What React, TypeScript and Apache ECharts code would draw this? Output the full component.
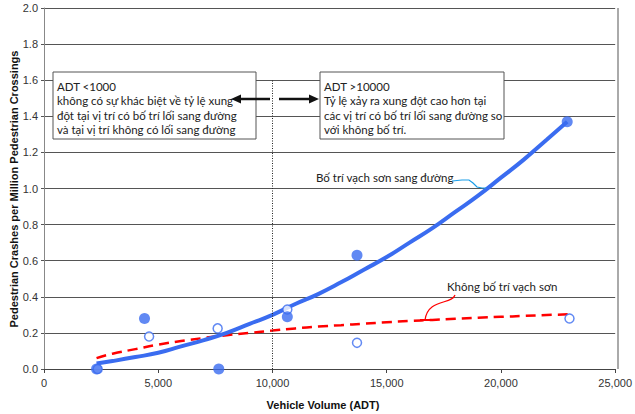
import React, { useEffect, useRef } from "react";
import * as echarts from "echarts";

const xTicks = [0, 5000, 10000, 15000, 20000, 25000];
const markedPoints: [number, number][] = [
  [2300, 0.0], [4400, 0.28], [7650, 0.0], [10650, 0.29], [13700, 0.63], [22900, 1.37],
];
const unmarkedPoints: [number, number][] = [
  [2350, 0.0], [4600, 0.18], [7600, 0.225], [10650, 0.33], [13700, 0.145], [23000, 0.28],
];
const markedTrend: [number, number][] = [
  [2300, 0.03], [3000, 0.044], [4000, 0.066], [5000, 0.09], [6000, 0.125], [7000, 0.16],
  [8000, 0.2], [9000, 0.25], [10000, 0.3], [11000, 0.36], [12000, 0.415], [13000, 0.48],
  [14000, 0.55], [15000, 0.62], [16000, 0.7], [17000, 0.78], [18000, 0.87], [19000, 0.96],
  [20000, 1.06], [21000, 1.16], [22000, 1.27], [22900, 1.37],
];
const unmarkedTrend: [number, number][] = [
  [2300, 0.06], [3000, 0.085], [4000, 0.11], [5000, 0.135], [6000, 0.155], [7000, 0.172],
  [8000, 0.187], [9000, 0.2], [10000, 0.213], [11000, 0.225], [12000, 0.235], [13000, 0.243],
  [14000, 0.251], [15000, 0.259], [16000, 0.266], [17000, 0.272], [18000, 0.278],
  [19000, 0.284], [20000, 0.289], [21000, 0.294], [22000, 0.299], [23000, 0.303],
];
const leftBoxLines = [
  "ADT <1000",
  "không có sự khác biệt về tỷ lệ xung",
  "đột tại vị trí có bố trí lối sang đường",
  "và tại vị trí không có lối sang đường",
];
const rightBoxLines = [
  "ADT >10000",
  "Tỷ lệ xảy ra xung đột cao hơn tại",
  "các vị trí có bố trí lối sang đường so",
  "với không bố trí.",
];
const markedLabel = "Bố trí vạch sơn sang đường";
const unmarkedLabel = "Không bố trí vạch sơn";
const xTitle = "Vehicle Volume (ADT)";
const yTitle = "Pedestrian Crashes per Million Pedestrian Crossings";

const BLUE = "#3a6cf0";
const NOTE_FONT = "Lato, 'Open Sans', sans-serif";

export default function App() {
  const ref = useRef<HTMLDivElement>(null);
  useEffect(() => {
    if (!ref.current) return;
    const chart = echarts.init(ref.current, null, { renderer: "svg" });
    const box = (x: number, y: number, w: number, h: number, lines: string[]) => ({
      type: "group",
      children: [
        {
          type: "rect",
          shape: { x, y, width: w, height: h },
          style: { fill: "#fff", stroke: "#555", lineWidth: 1 },
          z: 10,
        },
        ...lines.map((t, i) => ({
          type: "text",
          x: x + 4,
          y: y + 8 + i * 14.5,
          style: { text: t, fill: "#222", font: `11.5px ${NOTE_FONT}` },
          z: 11,
        })),
      ],
    });
    chart.setOption({
      animation: false,
      grid: { left: 44, right: 17, top: 8, bottom: 45 },
      xAxis: {
        type: "value",
        min: 0,
        max: 25000,
        interval: 5000,
        axisLine: { show: true, lineStyle: { color: "#444", width: 1 } },
        axisTick: { show: true, length: 4, lineStyle: { color: "#444" } },
        splitLine: { show: false },
        axisLabel: {
          color: "#333",
          fontSize: 11,
          fontFamily: "'Liberation Sans', Arial, sans-serif",
          margin: 8,
          formatter: (v: number) => (xTicks.includes(v) ? v.toLocaleString("en-US") : ""),
        },
      },
      yAxis: {
        type: "value",
        min: 0,
        max: 2,
        interval: 0.2,
        axisLine: { show: true, lineStyle: { color: "#888", width: 1 } },
        axisTick: { show: true, length: 3, lineStyle: { color: "#555" } },
        splitLine: { show: true, lineStyle: { color: "#555", width: 1 } },
        axisLabel: {
          color: "#333",
          fontSize: 11,
          fontFamily: "'Liberation Sans', Arial, sans-serif",
          margin: 6,
          formatter: (v: number) => v.toFixed(1),
        },
      },
      series: [
        {
          type: "line",
          data: unmarkedTrend,
          smooth: true,
          symbol: "none",
          lineStyle: { color: "#ff0000", width: 2.5, type: [10, 6] },
          z: 3,
        },
        {
          type: "line",
          data: markedTrend,
          smooth: true,
          symbol: "none",
          lineStyle: { color: BLUE, width: 4 },
          z: 4,
          markLine: {
            silent: true,
            symbol: "none",
            label: { show: false },
            lineStyle: { color: "#222", width: 1, type: [1, 1.5] },
            data: [[{ coord: [10000, 0] }, { coord: [10000, 1.6] }]],
          },
        },
        {
          type: "scatter",
          data: unmarkedPoints,
          symbol: "circle",
          symbolSize: 9,
          itemStyle: { color: "#fff", borderColor: BLUE, borderWidth: 1.5 },
          z: 5,
        },
        {
          type: "scatter",
          data: markedPoints,
          symbol: "circle",
          symbolSize: 11,
          itemStyle: { color: BLUE },
          z: 6,
        },
      ],
      graphic: [
        {
          type: "line",
          shape: { x1: 618, y1: 8, x2: 618, y2: 369 },
          style: { stroke: "#aaa", lineWidth: 2 },
        },
        box(53, 72, 203, 67, leftBoxLines),
        box(320, 72, 184, 67, rightBoxLines),
        {
          type: "line",
          shape: { x1: 270, y1: 99, x2: 240, y2: 99 },
          style: { stroke: "#111", lineWidth: 2.5 },
          z: 12,
        },
        {
          type: "polygon",
          shape: { points: [[231, 99], [241, 94.5], [241, 103.5]] },
          style: { fill: "#111" },
          z: 12,
        },
        {
          type: "line",
          shape: { x1: 279, y1: 99, x2: 310, y2: 99 },
          style: { stroke: "#111", lineWidth: 2.5 },
          z: 12,
        },
        {
          type: "polygon",
          shape: { points: [[319, 99], [309, 94.5], [309, 103.5]] },
          style: { fill: "#111" },
          z: 12,
        },
        {
          type: "text",
          x: 316,
          y: 171,
          style: { text: markedLabel, fill: "#222", font: `11.5px ${NOTE_FONT}` },
          z: 12,
        },
        {
          type: "polyline",
          shape: { points: [[452, 181], [462, 180], [469, 180], [473, 183], [477, 187], [482, 188], [486, 188]] },
          style: { stroke: "#1a9ee8", lineWidth: 1.2, fill: null },
          z: 12,
        },
        {
          type: "text",
          x: 447,
          y: 280,
          style: { text: unmarkedLabel, fill: "#222", font: `11.5px ${NOTE_FONT}` },
          z: 12,
        },
        {
          type: "bezierCurve",
          shape: { x1: 455, y1: 295, cpx1: 452, cpy1: 305, cpx2: 428, cpy2: 298, x2: 425, y2: 320 },
          style: { stroke: "#ff0000", lineWidth: 1.2, fill: null },
          z: 12,
        },
        {
          type: "line",
          shape: { x1: 420, y1: 320, x2: 436, y2: 320 },
          style: { stroke: "#ff0000", lineWidth: 2 },
          z: 12,
        },
        {
          type: "text",
          x: 323,
          y: 405,
          style: {
            text: xTitle,
            fill: "#111",
            font: "bold 11px 'Liberation Sans', Arial, sans-serif",
            align: "center",
            verticalAlign: "middle",
          },
        },
        {
          type: "text",
          x: 14,
          y: 189,
          rotation: Math.PI / 2,
          style: {
            text: yTitle,
            fill: "#111",
            font: "bold 11px 'Liberation Sans', Arial, sans-serif",
            align: "center",
            verticalAlign: "middle",
          },
        },
      ],
    });
    return () => chart.dispose();
  }, []);
  return (
    <div
      ref={ref}
      style={{ position: "absolute", left: 0, top: 0, width: 635, height: 414 }}
    />
  );
}
